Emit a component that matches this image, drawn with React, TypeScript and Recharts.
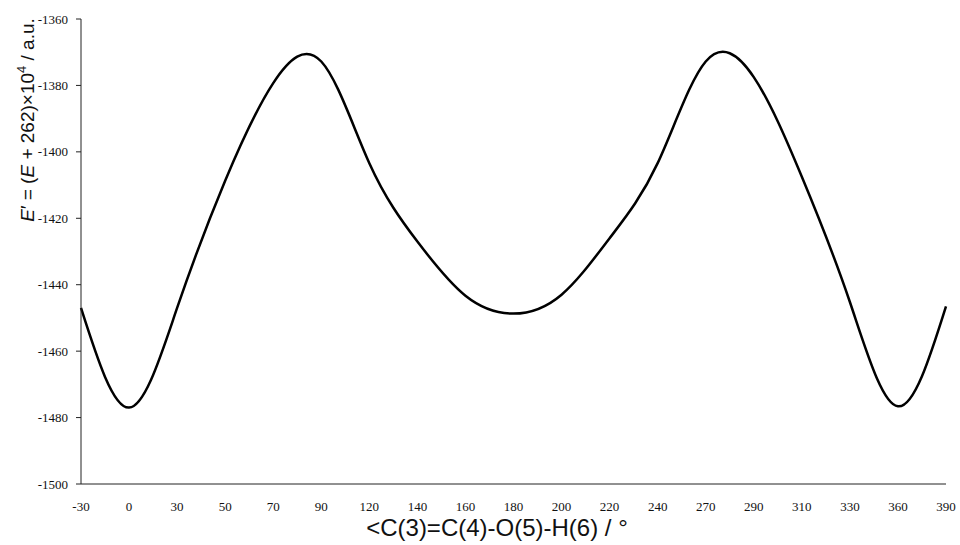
import { LineChart, Line, XAxis, YAxis, Label } from "recharts";

const angleLabels = ["-30", "0", "30", "50", "70", "90", "120", "140", "160", "180", "200", "220", "240", "270", "290", "310", "330", "360", "390"];
const energies = [-1447, -1477, -1447, -1408.7, -1379.3, -1372.8, -1403.4, -1427, -1443.3, -1448.7, -1443, -1426, -1403.4, -1372.8, -1377.5, -1407.5, -1445.2, -1476.6, -1446.5];
const energyTicks = [-1500, -1480, -1460, -1440, -1420, -1400, -1380, -1360];

const data = angleLabels.map((angle, i) => ({ angle, energy: energies[i] }));

const tickStyle = { fontFamily: "Liberation Serif, serif", fontSize: 13, fill: "#111" };
const titleFont = "Liberation Sans, Arial, sans-serif";

function YTitle() {
  return (
    <text x={34} y={120} transform="rotate(-90 34 120)" textAnchor="middle" fontFamily={titleFont} fontSize={19} fill="#111">
      <tspan fontStyle="italic">E</tspan>
      <tspan>′ = (</tspan>
      <tspan fontStyle="italic">E</tspan>
      <tspan> + 262)×10</tspan>
      <tspan fontSize={13} dy={-8}>4</tspan>
      <tspan dy={8}> / a.u.</tspan>
    </text>
  );
}

function XTitle() {
  return (
    <text x={497} y={536} textAnchor="middle" fontFamily={titleFont} fontSize={24} fill="#111">
      {"<C(3)=C(4)-O(5)-H(6) / °"}
    </text>
  );
}

export default function App() {
  return (
    <div style={{ position: "absolute", left: 0, top: 0, width: 960, height: 545, background: "#fff" }}>
      <LineChart width={960} height={545} data={data} margin={{ top: 19, right: 14, bottom: 0, left: 0 }}>
        <XAxis
          dataKey="angle"
          scale="point"
          interval={0}
          height={61}
          tickLine={false}
          tickMargin={12}
          tick={tickStyle}
          axisLine={{ stroke: "#222", strokeWidth: 1 }}
        >
          <Label content={() => <XTitle />} />
        </XAxis>
        <YAxis
          width={81}
          domain={[-1500, -1360]}
          ticks={energyTicks}
          interval={0}
          tickSize={5}
          tickMargin={8}
          tick={tickStyle}
          tickLine={{ stroke: "#222" }}
          axisLine={{ stroke: "#222", strokeWidth: 1 }}
        >
          <Label content={() => <YTitle />} />
        </YAxis>
        <Line
          type="natural"
          dataKey="energy"
          stroke="#000"
          strokeWidth={2.5}
          dot={false}
          activeDot={false}
          isAnimationActive={false}
        />
      </LineChart>
    </div>
  );
}
